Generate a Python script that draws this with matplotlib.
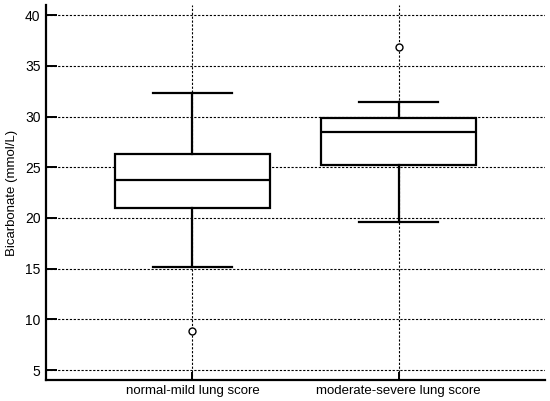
import matplotlib.pyplot as plt

plt.rcParams['font.family'] = ['Liberation Sans', 'DejaVu Sans']

skupiny = ["normal-mild lung score", "moderate-severe lung score"]
median = [23.7, 28.45]
q1 = [21.0, 25.2]
q3 = [26.3, 29.83]
spodni_fous = [15.13, 19.59]
horni_fous = [32.33, 31.4]
odlehle = [[8.87], [36.91]]

staty = []
for i in range(len(skupiny)):
    staty.append({"med": median[i], "q1": q1[i], "q3": q3[i],
                  "whislo": spodni_fous[i], "whishi": horni_fous[i],
                  "fliers": odlehle[i], "label": skupiny[i]})

fig = plt.figure(figsize=(5.5, 4.01), dpi=100)
ax = fig.add_axes([0.0836, 0.0524, 0.9074, 0.935])

ax.grid(True, color="black", linestyle=(0, (2, 1.5)), linewidth=0.8)
ax.set_axisbelow(True)

ax.bxp(staty, positions=[1, 2], widths=0.75, patch_artist=True,
       boxprops=dict(facecolor="white", edgecolor="black", linewidth=1.6),
       medianprops=dict(color="black", linewidth=1.6),
       whiskerprops=dict(color="black", linewidth=1.6),
       capprops=dict(color="black", linewidth=1.6),
       capwidths=0.38,
       flierprops=dict(marker="o", markersize=5, markerfacecolor="white",
                       markeredgecolor="black", markeredgewidth=1.0))

ax.set_xlim(0.29, 2.71)
ax.set_ylim(4.02, 41.0)
ax.set_yticks([5, 10, 15, 20, 25, 30, 35, 40])
ax.set_ylabel("Bicarbonate (mmol/L)", fontsize=9.5)
ax.yaxis.set_label_coords(-0.056, 0.5)

ax.spines["top"].set_visible(False)
ax.spines["right"].set_visible(False)
ax.spines["left"].set_linewidth(1.6)
ax.spines["bottom"].set_linewidth(1.6)
ax.tick_params(axis="y", direction="in", length=8, width=1.4, labelsize=10, pad=4)
ax.tick_params(axis="x", direction="in", length=6, width=1.4, labelsize=9.5)

fig.savefig("out.png", dpi=100)
